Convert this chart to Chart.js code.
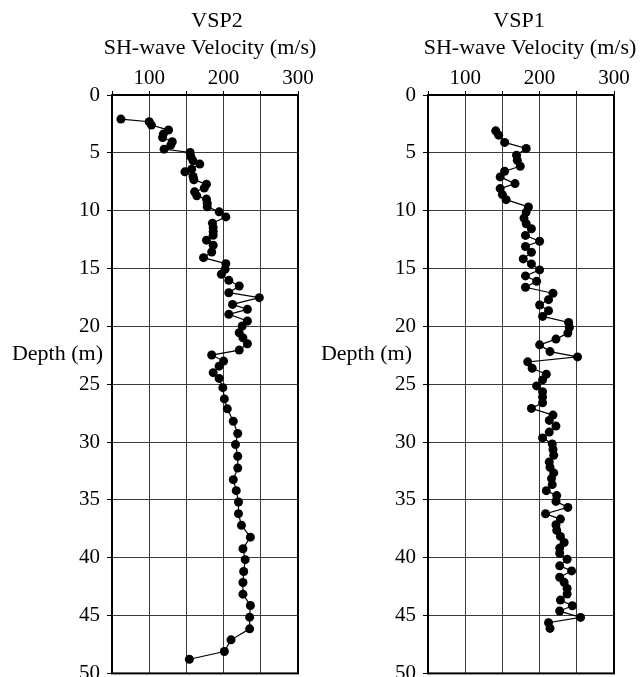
<!DOCTYPE html>
<html>
<head>
<meta charset="utf-8">
<script src="https://cdn.jsdelivr.net/npm/chart.js@4/dist/chart.umd.min.js"></script>
<style>
  html, body { margin: 0; padding: 0; background: #fff; }
  #wrap { position: relative; width: 642px; height: 677px; overflow: hidden; }
  #wrap canvas { position: absolute; left: 0; top: 0; }
</style>
</head>
<body>
<div id="wrap">
  <canvas id="vsp2" width="642" height="693"></canvas>
  <canvas id="vsp1" width="642" height="693"></canvas>
</div>
<script>
// VSP2 profile: depth (m) and SH-wave velocity (m/s)
const vsp2Depth = [
  2.08, 2.31, 2.6, 3.03, 3.38, 3.67, 4.04, 4.33, 4.68, 4.97,
  5.34, 5.69, 5.97, 6.41, 6.64, 7.05, 7.33, 7.71, 8.05, 8.37,
  8.72, 9.0, 9.35, 9.67, 10.1, 10.54, 11.08, 11.46, 11.81, 12.12,
  12.55, 12.99, 13.57, 14.06, 14.58, 15.07, 15.5, 16.02, 16.51, 17.09,
  17.52, 18.1, 18.53, 18.96, 19.54, 19.97, 20.55, 20.99, 21.5, 22.05,
  22.48, 23.0, 23.44, 24.0, 24.5, 25.3, 26.27, 27.13, 28.2, 29.26,
  30.22, 31.23, 32.24, 33.25, 34.2, 35.18, 36.19, 37.2, 38.22, 39.22,
  40.17, 41.19, 42.14, 43.15, 44.13, 45.14, 46.15, 47.1, 48.11, 48.78
];
const vsp2Velocity = [
  62, 100, 103, 126, 119, 118, 131, 129, 120, 155,
  156, 159, 168, 157, 148, 159, 160, 177, 174, 161,
  164, 177, 178, 178, 194, 203, 185, 186, 186, 186,
  177, 186, 184, 173, 203, 202, 197, 207, 221, 207,
  248, 212, 232, 207, 232, 225, 221, 226, 232, 221,
  184, 200, 194, 186, 194, 199, 201, 205, 213, 219,
  216, 219, 219, 213, 217, 220, 220, 224, 236, 226,
  229, 227, 226, 226, 236, 235, 235, 210, 201, 154
];

// VSP1 profile: depth (m) and SH-wave velocity (m/s)
const vsp1Depth = [
  3.1, 3.47, 4.1, 4.62, 5.2, 5.64, 6.16, 6.59, 7.08, 7.66,
  8.09, 8.61, 9.05, 9.68, 10.12, 10.64, 11.13, 11.56, 12.14, 12.64,
  13.1, 13.59, 14.17, 14.6, 15.12, 15.64, 16.1, 16.62, 17.14, 17.69,
  18.15, 18.65, 19.14, 19.66, 20.1, 20.58, 21.1, 21.6, 22.18, 22.64,
  23.07, 23.62, 24.14, 24.63, 25.15, 25.65, 26.1, 26.6, 27.09, 27.67,
  28.13, 28.62, 29.14, 29.64, 30.16, 30.64, 31.14, 31.72, 32.18, 32.67,
  33.16, 33.68, 34.2, 34.63, 35.13, 35.65, 36.2, 36.66, 37.15, 37.64,
  38.16, 38.68, 39.17, 39.61, 40.13, 40.7, 41.14, 41.69, 42.13, 42.65,
  43.14, 43.66, 44.15, 44.61, 45.16, 45.62, 46.11
];
const vsp1Velocity = [
  141, 145, 153, 182, 169, 170, 174, 153, 147, 167,
  147, 150, 155, 185, 182, 179, 182, 189, 181, 200,
  181, 189, 178, 189, 200, 181, 196, 181, 218, 212,
  200, 212, 204, 239, 240, 238, 222, 200, 214, 251,
  184, 190, 209, 204, 196, 204, 204, 204, 189, 218,
  213, 222, 213, 204, 217, 218, 219, 213, 214, 219,
  216, 217, 209, 223, 222, 238, 208, 228, 222, 223,
  228, 233, 227, 227, 237, 227, 243, 227, 233, 237,
  237, 228, 244, 227, 255, 212, 214
];

// Axis ticks
const depthTicks = [0, 5, 10, 15, 20, 25, 30, 35, 40, 45, 50];
const velocityTickLabels = [100, 200, 300];

const SERIF = "'Liberation Serif', 'Times New Roman', serif";

// Box around the plot area plus free text (titles, depth label)
const framePlugin = {
  id: 'frame',
  afterDraw(chart, args, opts) {
    const { ctx, chartArea: a } = chart;
    ctx.save();
    ctx.strokeStyle = '#000';
    ctx.lineWidth = 2;
    ctx.strokeRect(a.left, a.top, a.right - a.left, a.bottom - a.top);
    ctx.fillStyle = '#000';
    ctx.font = '22px ' + SERIF;
    ctx.textBaseline = 'middle';
    ctx.textAlign = 'center';
    ctx.fillText(opts.name, opts.nameX, 21);
    ctx.fillText('SH-wave Velocity (m/s)', opts.subX, 48);
    ctx.textAlign = 'right';
    ctx.fillText('Depth (m)', opts.depthRight, 354);
    ctx.restore();
  }
};

function makeProfile(canvasId, depth, velocity, pad, frame) {
  const points = depth.map((d, i) => ({ x: velocity[i], y: d }));
  return new Chart(document.getElementById(canvasId), {
    type: 'scatter',
    data: {
      datasets: [{
        data: points,
        showLine: true,
        borderColor: '#000',
        borderWidth: 1.2,
        backgroundColor: '#000',
        pointRadius: 4.5,
        pointBorderWidth: 0,
        pointBackgroundColor: '#000'
      }]
    },
    options: {
      responsive: false,
      animation: false,
      devicePixelRatio: 1,
      layout: { padding: pad },
      plugins: {
        legend: { display: false },
        tooltip: { enabled: false },
        frame: frame
      },
      scales: {
        x: {
          type: 'linear',
          position: 'top',
          min: 50,
          max: 300,
          afterBuildTicks(scale) {
            const t = [];
            for (let v = 50; v <= 300; v += 50) t.push({ value: v });
            scale.ticks = t;
          },
          afterFit(scale) { scale.height = 95; },
          ticks: {
            color: '#000',
            font: { family: SERIF, size: 21 },
            padding: 0,
            maxRotation: 0,
            autoSkip: false,
            callback: (v) => velocityTickLabels.includes(v) ? String(v) : ''
          },
          grid: { color: '#3a3a3a', lineWidth: 1, tickLength: 4, drawTicks: true, tickColor: '#000' },
          border: { color: '#000', width: 2 }
        },
        y: {
          type: 'linear',
          reverse: true,
          min: 0,
          max: 50,
          afterBuildTicks(scale) {
            scale.ticks = depthTicks.map(v => ({ value: v }));
          },
          afterFit(scale) { scale.width = 112; },
          ticks: {
            color: '#000',
            font: { family: SERIF, size: 21 },
            padding: 7,
            autoSkip: false
          },
          grid: { color: '#3a3a3a', lineWidth: 1, tickLength: 5, tickColor: '#000' },
          border: { color: '#000', width: 2 }
        }
      }
    },
    plugins: [framePlugin]
  });
}

makeProfile('vsp2', vsp2Depth, vsp2Velocity,
  { left: 0, top: 0, right: 344, bottom: 0 },
  { name: 'VSP2', nameX: 217, subX: 210, depthRight: 103 });

makeProfile('vsp1', vsp1Depth, vsp1Velocity,
  { left: 316, top: 0, right: 28, bottom: 0 },
  { name: 'VSP1', nameX: 519, subX: 530, depthRight: 412 });
</script>
</body>
</html>
